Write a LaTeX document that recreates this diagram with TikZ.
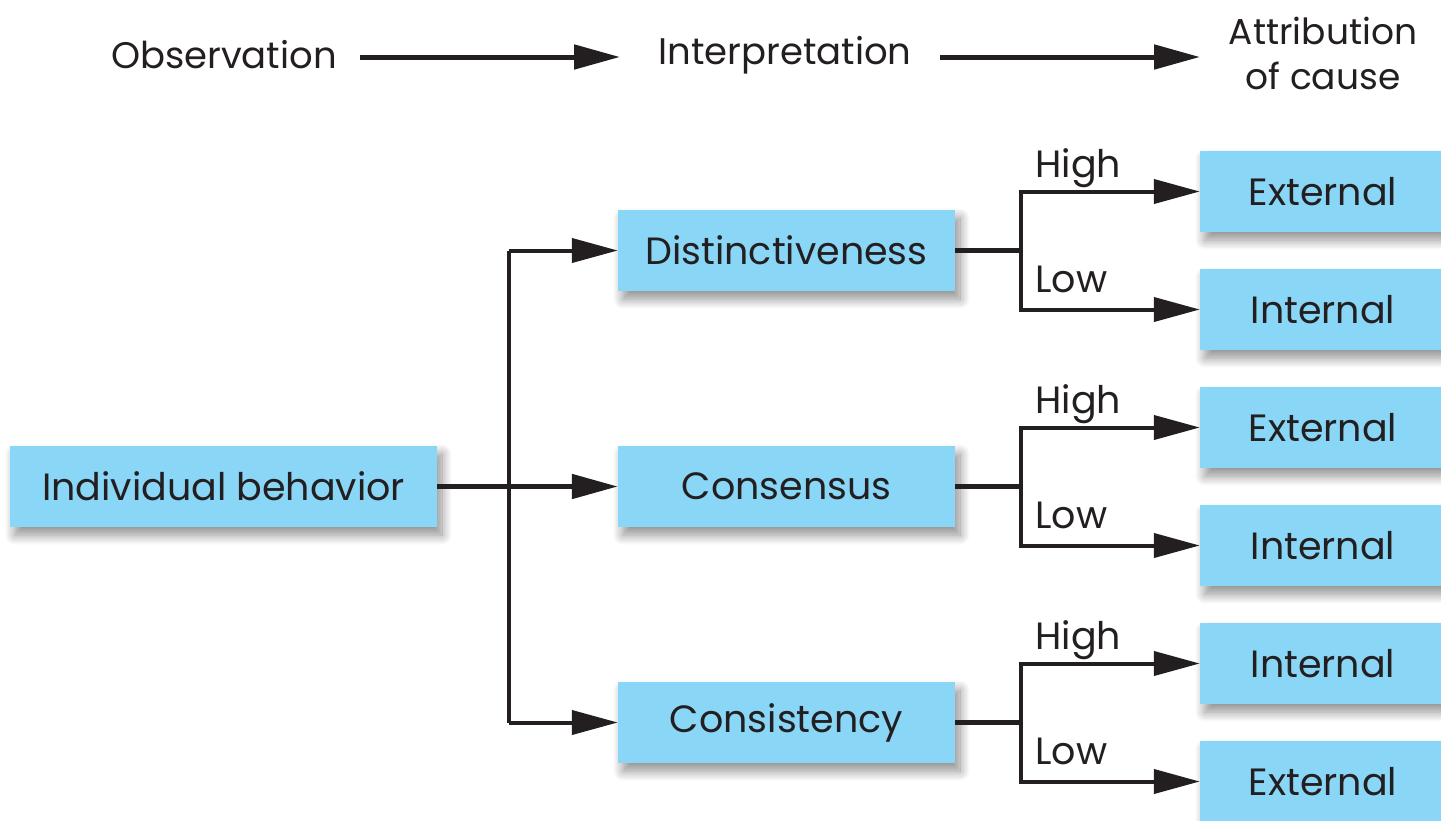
\documentclass[tikz,border=0pt]{standalone}
\usepackage{fontspec}
\setmainfont{Poppins}
\usetikzlibrary{arrows.meta,shadows.blur}
\definecolor{boxblue}{RGB}{138,214,246}
\definecolor{ink}{RGB}{35,31,32}
\tikzset{
  box/.style={fill=boxblue, draw=none, inner sep=0pt, minimum height=81pt,
    text=ink, font=\fontsize{38}{44}\selectfont,
    blur shadow={shadow xshift=5pt, shadow yshift=-8pt, shadow blur radius=10pt, shadow blur steps=16, shadow opacity=45}},
  lbl/.style={text=ink, font=\fontsize{38}{44}\selectfont, inner sep=0pt},
  tip/.style={-{Triangle[length=46pt,width=24pt]}},
  thickline/.style={line width=5pt, draw=ink},
  thinline/.style={line width=4pt, draw=ink}
}
\begin{document}
\begin{tikzpicture}[x=1pt,y=-1pt]
\useasboundingbox (0,0) rectangle (1441,820);
\clip (0,0) rectangle (1441,820);
% header
\node[lbl, font=\fontsize{37}{44}\selectfont] (obs) at (224,55) {Observation};
\node[lbl, font=\fontsize{37}{44}\selectfont] (int) at (785,55) {Interpretation};
\node[lbl, align=center, font=\fontsize{36}{45}\selectfont] (att) at (1323,53) {Attribution\\of cause};
\coordinate (o1) at (360,57);
\coordinate (o2) at (620,57);
\coordinate (i1) at (940,57);
\coordinate (i2) at (1200,57);
\draw[thickline, tip] (o1) -- (o2);
\draw[thickline, tip] (i1) -- (i2);
% boxes
\node[box, minimum width=427pt] (ib) at (223.5,486.5) {Individual behavior};
\node[box, minimum width=337pt] (dis) at (786.5,250.5) {Distinctiveness};
\node[box, minimum width=337pt] (con) at (786.5,486.5) {Consensus};
\node[box, minimum width=337pt] (cst) at (786.5,722.5) {Consistency};
\node[box, minimum width=246pt] (r1) at (1323,191.5) {External};
\node[box, minimum width=246pt] (r2) at (1323,309.5) {Internal};
\node[box, minimum width=246pt] (r3) at (1323,427.5) {External};
\node[box, minimum width=246pt] (r4) at (1323,545.5) {Internal};
\node[box, minimum width=246pt] (r5) at (1323,663.5) {Internal};
\node[box, minimum width=246pt] (r6) at (1323,781.5) {External};
% main tree
\draw[thickline, tip] (ib.east) -- (con.west);
\draw[thinline] (509,250.5) -- (509,722.5);
\draw[thinline, tip] (509,250.5) -- (dis.west);
\draw[thinline, tip] (509,722.5) -- (cst.west);
% branches
\foreach \src/\hi/\lo in {dis/r1/r2, con/r3/r4, cst/r5/r6}{
  \draw[thickline] (\src.east) -- ++(66,0) coordinate (b\src);
  \draw[thinline, tip] (b\src |- \hi.west) -- (\hi.west);
  \draw[thinline, tip] (b\src |- \lo.west) -- (\lo.west);
  \draw[thinline, line cap=rect] (b\src |- \hi.west) -- (b\src |- \lo.west);
  \node[lbl, anchor=base west] at ([xshift=14pt, yshift=14pt]b\src |- \hi.west) {High};
  \node[lbl, anchor=base west] at ([xshift=14pt, yshift=17pt]b\src |- \lo.west) {Low};
}
\end{tikzpicture}
\end{document}
